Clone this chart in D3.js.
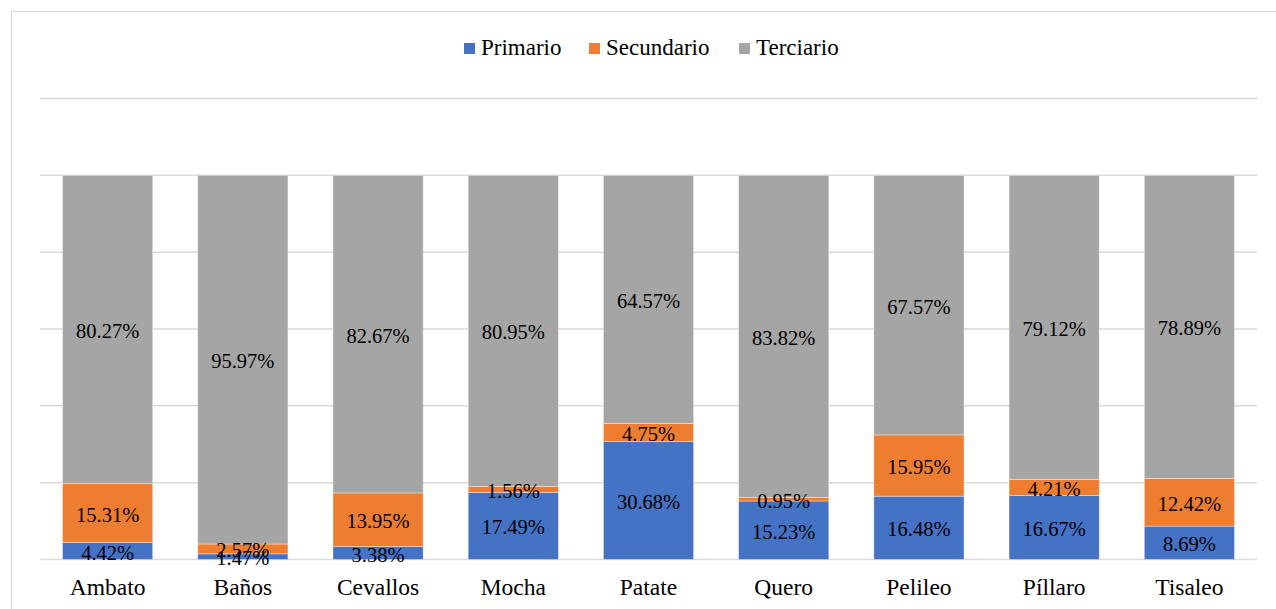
<!DOCTYPE html>
<html>
<head>
<meta charset="utf-8">
<script src="https://cdn.jsdelivr.net/npm/d3@7"></script>
<style>
  body { margin: 0; background: #fff; }
</style>
</head>
<body>
<div id="chart"></div>
<script>
// Chart data
var cantones = ["Ambato", "Baños", "Cevallos", "Mocha", "Patate", "Quero", "Pelileo", "Píllaro", "Tisaleo"];
var series = ["Primario", "Secundario", "Terciario"];
var primario = [4.42, 1.47, 3.38, 17.49, 30.68, 15.23, 16.48, 16.67, 8.69];
var secundario = [15.31, 2.57, 13.95, 1.56, 4.75, 0.95, 15.95, 4.21, 12.42];
var terciario = [80.27, 95.97, 82.67, 80.95, 64.57, 83.82, 67.57, 79.12, 78.89];
var gridTicks = [0, 20, 40, 60, 80, 100, 120];
var colors = ["#4472C4", "#ED7D31", "#A5A5A5"];

// Set the dimensions
var width = 1276,
    height = 609;

var svg = d3.select("#chart")
    .append("svg")
    .attr("width", width)
    .attr("height", height)
    .attr("font-family", "'Liberation Serif', 'Times New Roman', Times, serif");

// Outer chart border (runs past the right and bottom edges)
svg.append("rect")
    .attr("x", 11.5)
    .attr("y", 11.5)
    .attr("width", width + 20)
    .attr("height", height + 20)
    .attr("fill", "none")
    .attr("stroke", "#d9d9d9")
    .attr("stroke-width", 1);

// Build rows for the stack
var rows = cantones.map(function(c, i) {
    return { canton: c, Primario: primario[i], Secundario: secundario[i], Terciario: terciario[i] };
});

var stack = d3.stack().keys(series)(rows);

// Scales
var x = d3.scaleBand()
    .domain(cantones)
    .range([40, 1257])
    .paddingInner(0.333)
    .paddingOuter(0.1665);

var y = d3.scaleLinear()
    .domain([0, 120])
    .range([559.5, 98.5]);

var color = d3.scaleOrdinal(colors).domain(series);

// Gridlines
svg.append("g")
    .selectAll("line")
    .data(gridTicks)
    .enter()
    .append("line")
    .attr("x1", 40)
    .attr("x2", 1257)
    .attr("y1", d => y(d))
    .attr("y2", d => y(d))
    .attr("stroke", "#d9d9d9")
    .attr("stroke-width", 1.5);

// Stacked bars
svg.append("g")
    .selectAll("g")
    .data(stack)
    .enter()
    .append("g")
    .attr("fill", d => color(d.key))
    .selectAll("rect")
    .data(d => d)
    .enter()
    .append("rect")
    .attr("x", d => x(d.data.canton))
    .attr("width", x.bandwidth())
    .attr("y", d => y(d[1]))
    .attr("height", d => y(d[0]) - y(d[1]))
    .attr("stroke", "#fff")
    .attr("stroke-opacity", 0.5)
    .attr("stroke-width", 0.75);

// Data labels (drawn after all bars so none get hidden)
var labels = [];
stack.forEach(function(s) {
    s.forEach(function(v) { labels.push({ v: v, key: s.key }); });
});

svg.append("g")
    .selectAll("text")
    .data(labels)
    .enter()
    .append("text")
    .attr("x", d => x(d.v.data.canton) + x.bandwidth() / 2)
    .attr("y", d => (y(d.v[0]) + y(d.v[1])) / 2 + 8.5)
    .attr("text-anchor", "middle")
    .attr("fill", "#000")
    .style("font-size", "20.5px")
    .text(d => d.v.data[d.key].toFixed(2) + "%");

// Category labels
svg.append("g")
    .selectAll("text")
    .data(cantones)
    .enter()
    .append("text")
    .attr("x", d => x(d) + x.bandwidth() / 2)
    .attr("y", 595)
    .attr("text-anchor", "middle")
    .attr("fill", "#000")
    .style("font-size", "23.5px")
    .text(d => d);

// Legend
var legendX = [464, 589, 739];
var legend = svg.append("g")
    .selectAll("g")
    .data(series)
    .enter()
    .append("g")
    .attr("transform", (d, i) => "translate(" + legendX[i] + ",43)");

legend.append("rect")
    .attr("width", 11)
    .attr("height", 11)
    .attr("fill", color);

legend.append("text")
    .attr("x", 17)
    .attr("y", 12)
    .attr("fill", "#000")
    .style("font-size", "23px")
    .text(d => d);
</script>
</body>
</html>
